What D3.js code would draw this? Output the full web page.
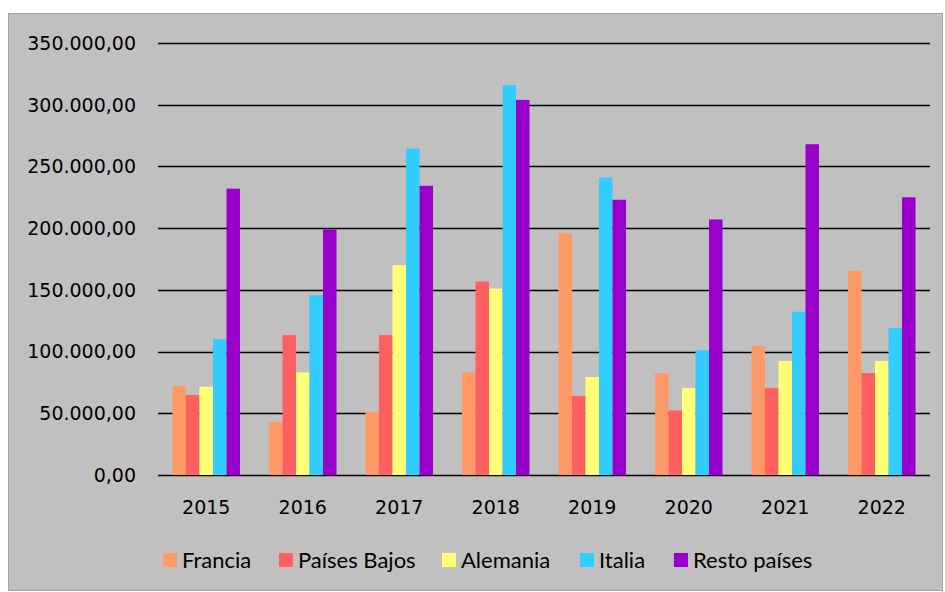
<!DOCTYPE html>
<html><head><meta charset="utf-8">
<script src="https://cdn.jsdelivr.net/npm/d3@7"></script>
<style>body{margin:0;background:#fff}svg{display:block}</style>
</head><body>
<script>
const years = ["2015","2016","2017","2018","2019","2020","2021","2022"];
const seriesNames = ["Francia","Países Bajos","Alemania","Italia","Resto países"];
const francia     = [72000, 43000, 51000, 83500, 195800, 82600, 104500, 165400];
const paisesBajos = [64800, 113400, 113400, 156800, 64000, 52300, 70400, 82600];
const alemania    = [71500, 83100, 170000, 151100, 79400, 70400, 92300, 92300];
const italia      = [110000, 145700, 264500, 315800, 241000, 101000, 132300, 119000];
const resto       = [232000, 199000, 234300, 303900, 223000, 207000, 268000, 225000];
const yTicks = [0, 50000, 100000, 150000, 200000, 250000, 300000, 350000];
const colors = ["#FF9966","#FF5F5F","#FFFF77","#33CCFF","#9900CC"];
const seriesValues = [francia, paisesBajos, alemania, italia, resto];

const W = 945, H = 592;
const svg = d3.select("body").append("svg").attr("width", W).attr("height", H);
svg.append("rect").attr("x", 8.5).attr("y", 13.5).attr("width", 934).attr("height", 577)
  .attr("fill", "#C0C0C0").attr("stroke", "#A0A0A0").attr("stroke-width", 1);

const pLeft = 158, pRight = 930, pTop = 43, pBottom = 475;
const x = d3.scaleBand().domain(years).range([pLeft, pRight]).paddingInner(0.3).paddingOuter(0.15);
const x1 = d3.scaleBand().domain(seriesNames).range([0, x.bandwidth()]);
const y = d3.scaleLinear().domain([0, 350000]).range([pBottom, pTop]);

const fmt = v => d3.format(",.2f")(v).replace(/,/g, "X").replace(/\./g, ",").replace(/X/g, ".");

svg.append("g").selectAll("line").data(yTicks).join("line")
  .attr("x1", pLeft).attr("x2", pRight)
  .attr("y1", d => Math.round(y(d)) + 0.5).attr("y2", d => Math.round(y(d)) + 0.5)
  .attr("stroke", "#000").attr("stroke-width", 1.6);

svg.append("g").selectAll("text").data(yTicks).join("text")
  .attr("x", 136).attr("y", d => y(d)).attr("dy", "0.36em")
  .attr("text-anchor", "end").attr("font-family", "DejaVu Sans").attr("font-size", 19)
  .attr("fill", "#000").text(fmt);

const groups = svg.append("g").selectAll("g").data(years).join("g")
  .attr("transform", d => `translate(${x(d)},0)`);
groups.selectAll("rect").data((d, i) => seriesNames.map((s, k) => ({s, v: seriesValues[k][i], k})))
  .join("rect")
  .attr("x", d => x1(d.s)).attr("width", x1.bandwidth())
  .attr("y", d => y(d.v)).attr("height", d => pBottom - y(d.v))
  .attr("fill", d => colors[d.k]);

svg.append("g").selectAll("text").data(years).join("text")
  .attr("x", d => x(d) + x.bandwidth() / 2).attr("y", 507).attr("dy", "0.36em")
  .attr("text-anchor", "middle").attr("font-family", "DejaVu Sans").attr("font-size", 19)
  .attr("fill", "#000").text(d => d);

const legX = [163, 279, 442, 580, 674];
const leg = svg.append("g").selectAll("g").data(seriesNames).join("g")
  .attr("transform", (d, i) => `translate(${legX[i]},553)`);
leg.append("rect").attr("width", 14).attr("height", 14).attr("fill", (d, i) => colors[i]);
leg.append("text").attr("x", 19).attr("y", 7).attr("dy", "0.36em")
  .attr("font-family", "Lato").attr("font-size", 22).attr("fill", "#000").text(d => d);
</script>
</body></html>
